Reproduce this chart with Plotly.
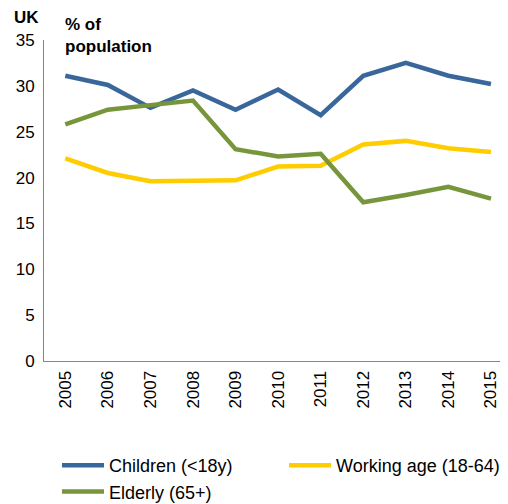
import plotly.graph_objects as go

years = [str(y) for y in range(2005, 2016)]
children = [31.1, 30.1, 27.6, 29.5, 27.4, 29.6, 26.8, 31.1, 32.5, 31.1, 30.2]
working_age = [22.1, 20.5, 19.6, 19.6, 19.7, 21.2, 21.3, 23.6, 24.0, 23.2, 22.8]
elderly = [25.8, 27.4, 27.9, 28.4, 23.1, 22.3, 22.6, 17.3, 18.1, 19.0, 17.7]

series = [
    ("Children (<18y)", children, "#3A679B"),
    ("Working age (18-64)", working_age, "#FFCC00"),
    ("Elderly (65+)", elderly, "#77963C"),
]

fig = go.Figure()
for name, values, color in series:
    fig.add_trace(
        go.Scatter(
            x=years,
            y=values,
            name=name,
            mode="lines",
            line={"color": color, "width": 4.5},
        )
    )

# page body has an 8px margin, so the figure is sized 8px smaller
fig.add_annotation(
    text="<b>UK</b>", xref="paper", yref="paper", x=-0.069, y=1.0,
    xanchor="left", yanchor="bottom", yshift=11, showarrow=False,
    font={"size": 17},
)
fig.add_annotation(
    text="<b>% of<br>population</b>", xref="paper", yref="paper", x=0.041, y=1.0,
    xanchor="left", yanchor="top", yshift=27, align="left", showarrow=False,
    font={"size": 17},
)

fig.update_layout(
    width=500,
    height=496,
    margin={"l": 36, "r": 0, "t": 32, "b": 143, "autoexpand": False},
    paper_bgcolor="white",
    plot_bgcolor="white",
    font={"family": "Liberation Sans, Arial, sans-serif", "size": 17, "color": "#000000"},
    showlegend=True,
    legend={
        "orientation": "h",
        "xref": "container",
        "yref": "container",
        "x": 0.098,
        "y": 0.115,
        "xanchor": "left",
        "yanchor": "top",
        "entrywidth": 170,
        "itemwidth": 42,
        "font": {"size": 18},
        "traceorder": "normal",
    },
)
fig.update_xaxes(
    type="category",
    range=[-0.5, 10.4],
    tickangle=-90,
    showline=True,
    linecolor="#868686",
    showgrid=False,
    ticks="",
    ticklabelstandoff=2,
    automargin=False,
)
fig.update_yaxes(
    range=[0, 35],
    dtick=5,
    showline=True,
    linecolor="#868686",
    showgrid=False,
    zeroline=False,
    ticks="",
    ticklabelstandoff=5,
    automargin=False,
)

fig.write_html("out.html")
